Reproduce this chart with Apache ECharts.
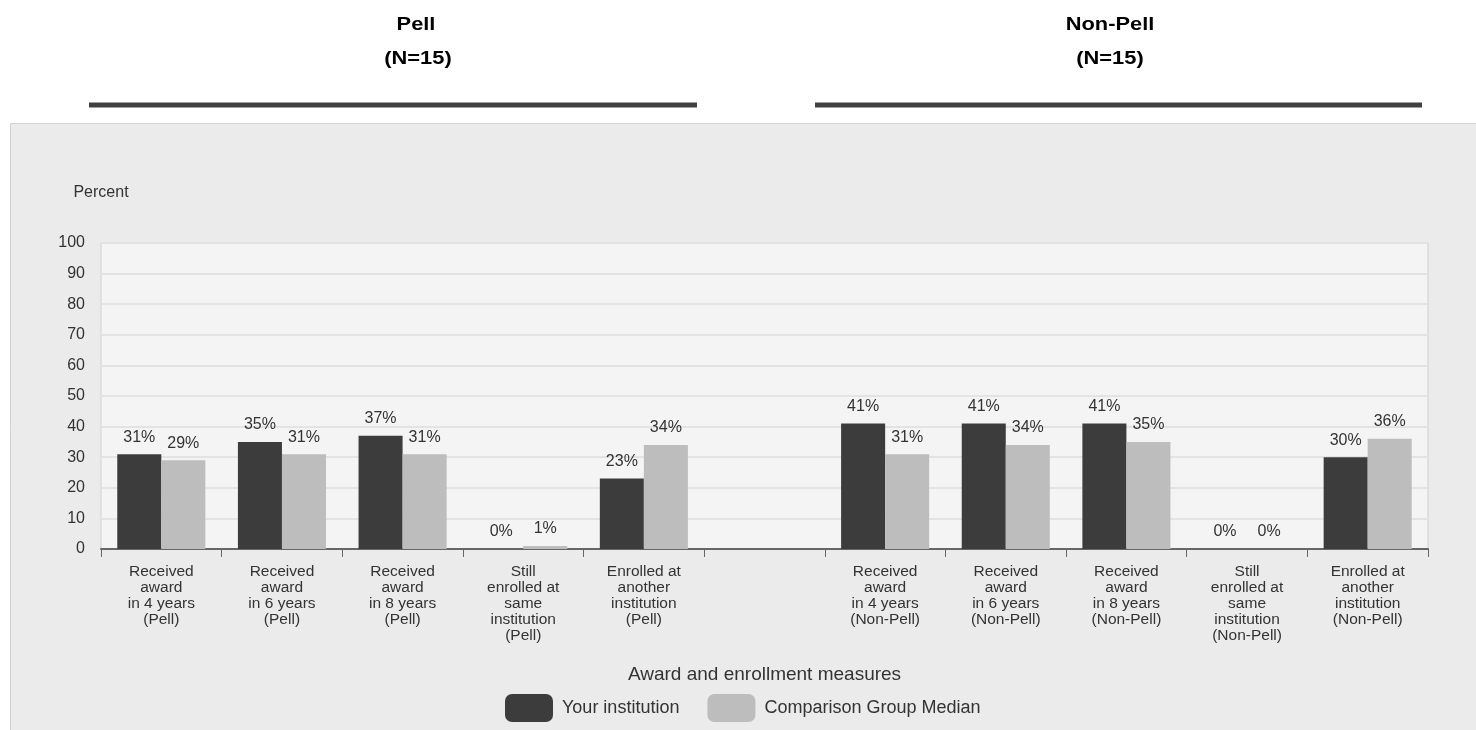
<!DOCTYPE html>
<html><head><meta charset="utf-8">
<script src="https://cdn.jsdelivr.net/npm/echarts@6/dist/echarts.min.js"></script>
<style>html,body{margin:0;padding:0;background:#fff}#c{width:1476px;height:730px}</style>
</head><body><div id="c"></div>
<script>
const categories = [
  'Received\naward\nin 4 years\n(Pell)',
  'Received\naward\nin 6 years\n(Pell)',
  'Received\naward\nin 8 years\n(Pell)',
  'Still\nenrolled at\nsame\ninstitution\n(Pell)',
  'Enrolled at\nanother\ninstitution\n(Pell)',
  '',
  'Received\naward\nin 4 years\n(Non-Pell)',
  'Received\naward\nin 6 years\n(Non-Pell)',
  'Received\naward\nin 8 years\n(Non-Pell)',
  'Still\nenrolled at\nsame\ninstitution\n(Non-Pell)',
  'Enrolled at\nanother\ninstitution\n(Non-Pell)'
];
const yourInstitution = [31, 35, 37, 0, 23, null, 41, 41, 41, 0, 30];
const comparisonMedian = [29, 31, 31, 1, 34, null, 31, 34, 35, 0, 36];
const yTicks = [0, 10, 20, 30, 40, 50, 60, 70, 80, 90, 100];

const chart = echarts.init(document.getElementById('c'));
const font = 'Liberation Sans, Arial, sans-serif';
const lbl = {show: true, position: 'top', formatter: '{c}%', color: '#333', fontSize: 16, fontFamily: font, distance: 9};
const hdr = (t, x, y) => ({type: 'text', x: x, y: y, scaleX: 1.15, style: {text: t, font: 'bold 19px ' + font, fill: '#000', textAlign: 'center', textVerticalAlign: 'middle'}});
chart.setOption({
  animation: false,
  textStyle: {fontFamily: font},
  graphic: [
    {type: 'rect', z: -10, shape: {x: 10.5, y: 123.5, width: 1470, height: 610}, style: {fill: '#ebebeb', stroke: '#d2d2d2', lineWidth: 1}},
    hdr('Pell', 416, 25), hdr('(N=15)', 418, 59),
    hdr('Non-Pell', 1110, 25), hdr('(N=15)', 1110, 59),
    {type: 'line', shape: {x1: 89, y1: 105, x2: 697, y2: 105}, style: {stroke: '#404040', lineWidth: 5}},
    {type: 'line', shape: {x1: 815, y1: 105, x2: 1422, y2: 105}, style: {stroke: '#404040', lineWidth: 5}}
  ],
  grid: {left: 101, right: 48, top: 243, bottom: 181, show: true, backgroundColor: '#f4f4f4', borderColor: '#d0d0d0', borderWidth: 1},
  legend: {
    bottom: 3, left: 500, itemWidth: 48, itemHeight: 28, itemGap: 28, icon: 'roundRect',
    textStyle: {color: '#333', fontSize: 18, fontFamily: font, padding: [0, 0, 0, 4]},
    data: ['Your institution', 'Comparison Group Median']
  },
  xAxis: {
    type: 'category', data: categories,
    name: 'Award and enrollment measures', nameLocation: 'middle', nameGap: 116,
    nameTextStyle: {color: '#333', fontSize: 19, fontFamily: font},
    axisLine: {lineStyle: {color: '#666', width: 2}},
    axisTick: {show: true, alignWithLabel: false, length: 8, lineStyle: {color: '#666'}},
    axisLabel: {interval: 0, color: '#333', fontSize: 15.5, lineHeight: 16, margin: 15, fontFamily: font}
  },
  yAxis: {
    type: 'value', min: 0, max: 100, interval: 10,
    name: 'Percent', nameLocation: 'end', nameGap: 42,
    nameTextStyle: {color: '#333', fontSize: 16, fontFamily: font, align: 'center'},
    axisLine: {show: false}, axisTick: {show: false},
    axisLabel: {color: '#333', fontSize: 16, margin: 16, fontFamily: font,
      formatter: v => yTicks.includes(v) ? String(v) : ''},
    splitLine: {lineStyle: {color: '#e3e3e3', width: 2}}
  },
  series: [
    {name: 'Your institution', type: 'bar', data: yourInstitution, barGap: '0%', barCategoryGap: '27%',
      itemStyle: {color: '#3c3c3c'}, label: lbl},
    {name: 'Comparison Group Median', type: 'bar', data: comparisonMedian,
      itemStyle: {color: '#bdbdbd'}, label: lbl}
  ]
});
</script></body></html>
